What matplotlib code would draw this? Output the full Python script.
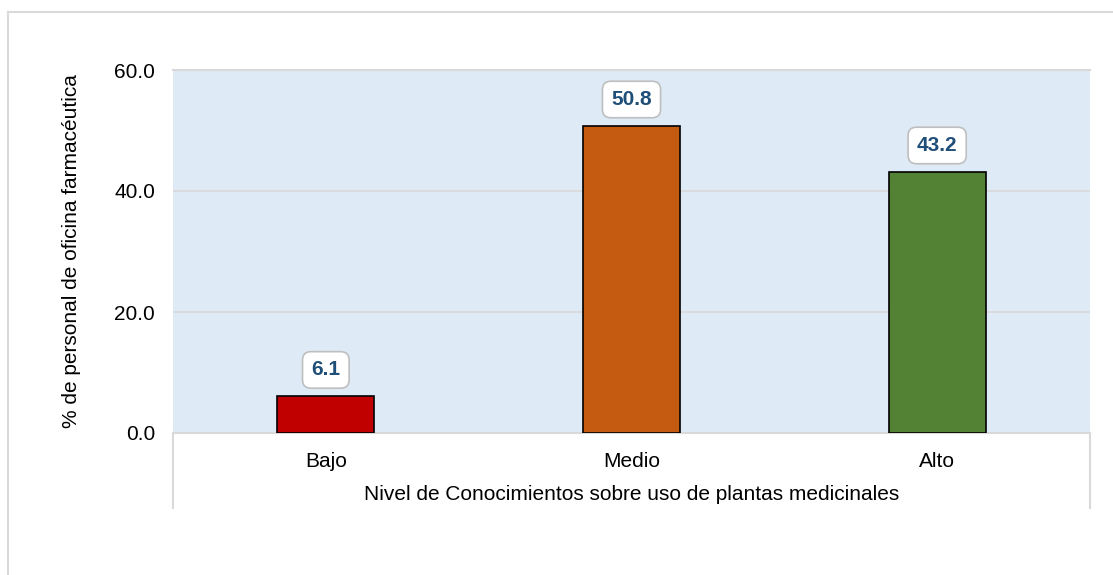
import matplotlib
matplotlib.use("Agg")
import matplotlib.pyplot as plt
from matplotlib.lines import Line2D

categories = ["Bajo", "Medio", "Alto"]
values = [6.1, 50.8, 43.2]
colors = ["#C00000", "#C55A11", "#548235"]
yticks = [0, 20, 40, 60]

plt.rcParams['font.family'] = ['Liberation Sans', 'DejaVu Sans']

W, H = 1113, 575
fs = 15
fig = plt.figure(figsize=(W/100, H/100), dpi=100)
ax = fig.add_axes([173/W, 1-433/H, (1090-173)/W, (433-70)/H])
ax.set_facecolor("#DEEAF6")

x = list(range(len(categories)))
ax.bar(x, values, width=0.317, color=colors, edgecolor="black", linewidth=1.2, zorder=3)
ax.set_xlim(-0.5, len(categories)-0.5)
ax.set_ylim(0, 60)
ax.set_yticks(yticks)
ax.set_yticklabels([f"{v:.1f}" for v in yticks], fontsize=fs)
ax.set_xticks(x)
ax.set_xticklabels(categories, fontsize=fs)
ax.tick_params(axis='both', length=0)
ax.tick_params(axis='y', pad=13)
ax.tick_params(axis='x', pad=14)
ax.grid(axis='y', color="#D9D9D9", linewidth=1.2, zorder=0)
for s in ["left", "right"]:
    ax.spines[s].set_visible(False)
ax.spines["top"].set_color("#D9D9D9")
ax.spines["top"].set_linewidth(1.5)
ax.spines["bottom"].set_color("#D9D9D9")
ax.spines["bottom"].set_linewidth(1.5)

ax.set_ylabel("% de personal de oficina farmacéutica", fontsize=fs, labelpad=24)
ax.set_xlabel("Nivel de Conocimientos sobre uso de plantas medicinales", fontsize=fs, labelpad=10)

for xi, v in zip(x, values):
    ax.annotate(f"{v:.1f}", (xi, v), xytext=(0, 12), textcoords="offset points",
                ha="center", va="bottom", fontsize=fs, fontweight="bold", color="#1F4E79",
                bbox=dict(boxstyle="round,pad=0.42,rounding_size=0.4", fc="white", ec="#BFBFBF", lw=1.2),
                zorder=5)

# category group box lines
for xp in (173, 1090):
    fig.add_artist(Line2D([xp/W, xp/W], [1-433/H, 1-508/H], color="#D9D9D9", lw=1.5))
# outer frame (left and top visible)
fig.add_artist(Line2D([8/W, 8/W], [0, 1-12/H], color="#D9D9D9", lw=1.5))
fig.add_artist(Line2D([8/W, 1], [1-12/H, 1-12/H], color="#D9D9D9", lw=1.5))

fig.savefig("out.png", dpi=100)
